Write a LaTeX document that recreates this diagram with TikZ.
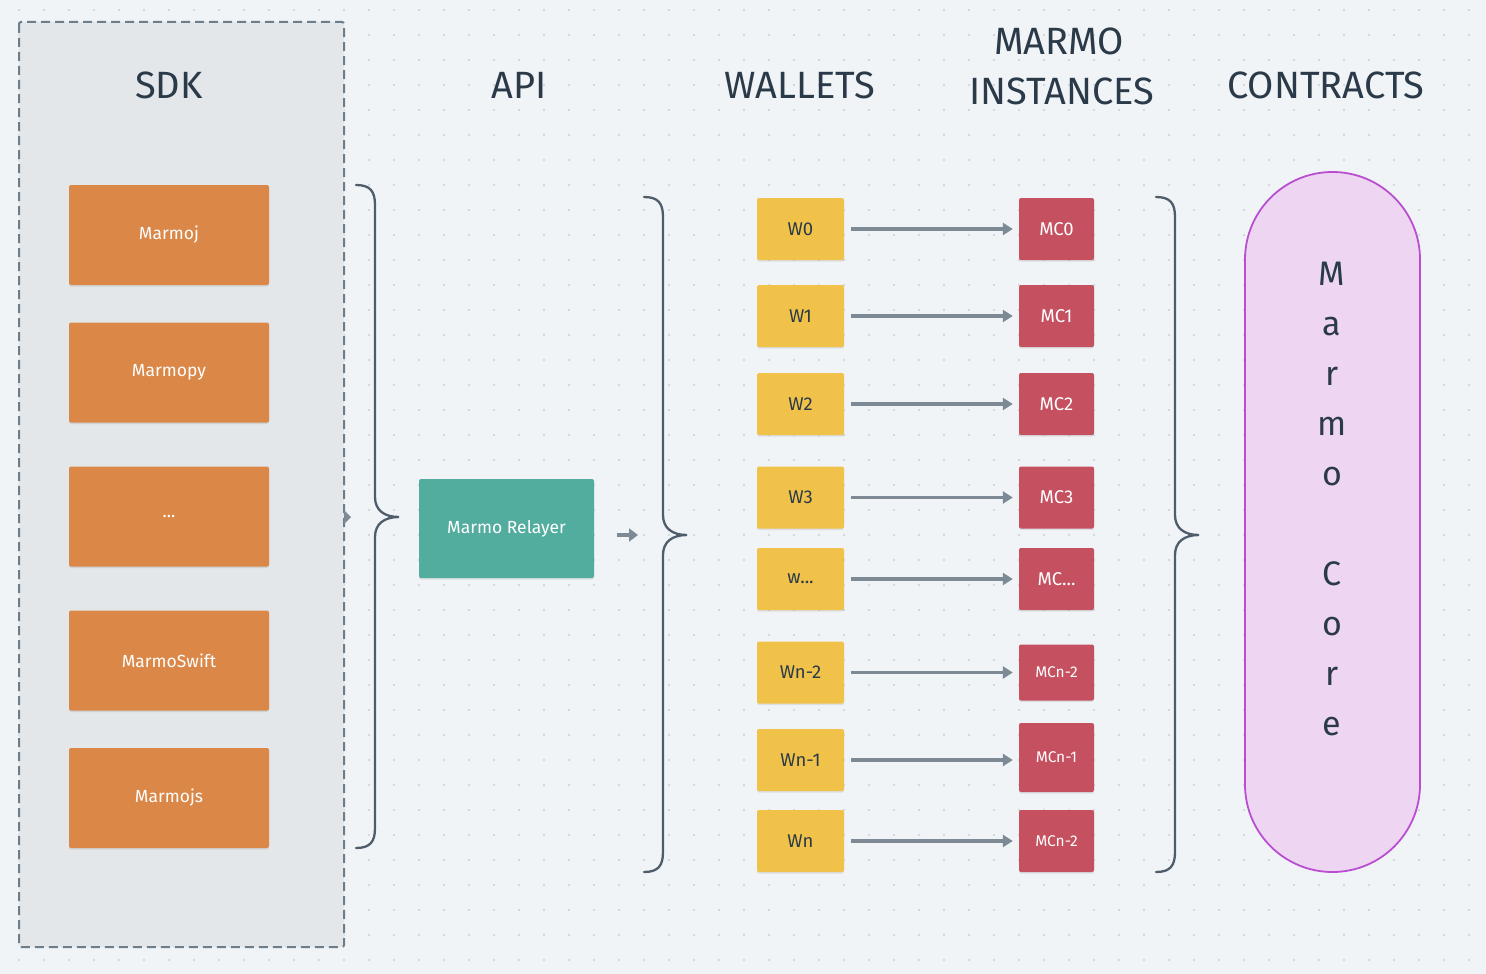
\documentclass[tikz,border=0pt]{standalone}
\usepackage{fontspec}
\setmainfont{Fira Sans}
\usetikzlibrary{arrows.meta,shadows}
\definecolor{paper}{HTML}{F1F4F7}
\definecolor{dotgray}{HTML}{C9D0D7}
\definecolor{panel}{HTML}{E4E7EA}
\definecolor{dashgray}{HTML}{6E7D8A}
\definecolor{ink}{HTML}{2A3A48}
\definecolor{sdkorange}{HTML}{DB8748}
\definecolor{relayteal}{HTML}{52AD9F}
\definecolor{walletyellow}{HTML}{F0C24A}
\definecolor{instred}{HTML}{C45060}
\definecolor{corefill}{HTML}{EED6F3}
\definecolor{coreline}{HTML}{B94FD0}
\definecolor{arrowgray}{HTML}{7D8A96}
\definecolor{bracegray}{HTML}{4F5D6B}
\begin{document}
\begin{tikzpicture}[x=1pt, y=-1pt,
  every node/.style={font=\fontsize{17.5}{21}\selectfont},
  title/.style={text=ink, font=\fontsize{38}{50}\selectfont, anchor=base},
  box/.style={rounded corners=2pt, inner sep=0pt,
    drop shadow={shadow xshift=0pt, shadow yshift=-1.5pt, opacity=.18}},
  sdkbox/.style={box, fill=sdkorange, text=white, minimum width=200, minimum height=100},
  relaybox/.style={box, fill=relayteal, text=white, minimum width=175, minimum height=99},
  walletbox/.style={box, fill=walletyellow, text=ink, minimum width=87, minimum height=62, font=\fontsize{18.5}{22}\selectfont},
  mcbox/.style={box, fill=instred, text=white, minimum width=75, minimum height=62, font=\fontsize{18.5}{22}\selectfont},
  mcsmall/.style={mcbox, font=\fontsize{15.5}{18}\selectfont},
  flow/.style={draw=arrowgray, line width=3.6pt, -{Triangle[length=10pt, width=12pt]}, shorten <=7pt, shorten >=6pt},
  brace/.style={draw=bracegray, line width=2.3pt, line cap=round},
  coreletter/.style={text=ink, font=\fontsize{34}{40}\selectfont, anchor=base}]

% background and dot grid
\useasboundingbox[fill=paper] (0,0) rectangle (1486,974);
\foreach \i in {0,...,59} \foreach \j in {0,...,38} \fill[dotgray] (19+25*\i, 10+25*\j) circle (1.1);

% SDK column
\draw[fill=panel, draw=dashgray, line width=2pt, dash pattern=on 9pt off 5pt, rounded corners=2pt] (19,22) rectangle (344,947);
\fill[arrowgray] (344,510) -- (351,517) -- (344,524) -- cycle;

% titles
\node[title] (sdk) at (169,98) {SDK};
\node[title] (api) at (519,98) {API};
\node[title] (wallets) at (800,98) {WALLETS};
\node[title] (marmo) at (1059,55) {MARMO};
\node[title] (instances) at (1062,104) {INSTANCES};
\node[title] (contracts) at (1326,98) {CONTRACTS};

% SDK boxes
\node[sdkbox] (marmoj) at (169,235) {Marmoj};
\node[sdkbox] (marmopy) at (169,372.5) {Marmopy};
\node[sdkbox] (sdkdots) at (169,516.5) {...};
\node[sdkbox] (marmoswift) at (169,660.5) {MarmoSwift};
\node[sdkbox] (marmojs) at (169,798) {Marmojs};

% relayer
\node[relaybox] (relayer) at (506.5,528.5) {Marmo Relayer};
\coordinate (relayout) at (617,535); \coordinate (relayin) at (638,535);
\draw[draw=arrowgray, line width=4.5pt, -{Triangle[length=9pt, width=13pt]}] (relayout) -- (relayin);

% braces
\draw[brace] (356,185) .. controls (370,185) and (375,191) .. (375,205) -- (375,497) .. controls (375,510) and (384,517) .. (399,517) .. controls (384,517) and (375,524) .. (375,537) -- (375,828) .. controls (375,842) and (370,848) .. (356,848);
\draw[brace] (644,197) .. controls (658,197) and (663,203) .. (663,217) -- (663,515) .. controls (663,528) and (672,535) .. (687,535) .. controls (672,535) and (663,542) .. (663,555) -- (663,852) .. controls (663,866) and (658,872) .. (644,872);
\draw[brace] (1156,197) .. controls (1170,197) and (1175,203) .. (1175,217) -- (1175,515) .. controls (1175,528) and (1184,535) .. (1199,535) .. controls (1184,535) and (1175,542) .. (1175,555) -- (1175,852) .. controls (1175,866) and (1170,872) .. (1156,872);

% wallets and instances
\node[walletbox] (w0) at (800.5,229) {W0};     \node[mcbox] (mc0) at (1056.5,229) {MC0};
\node[walletbox] (w1) at (800.5,316) {W1};     \node[mcbox] (mc1) at (1056.5,316) {MC1};
\node[walletbox] (w2) at (800.5,404) {W2};     \node[mcbox] (mc2) at (1056.5,404) {MC2};
\node[walletbox] (w3) at (800.5,497.5) {W3};   \node[mcbox] (mc3) at (1056.5,497.5) {MC3};
\node[walletbox] (wx) at (800.5,579) {w...};   \node[mcbox] (mcx) at (1056.5,579) {MC...};
\node[walletbox] (wn2) at (800.5,672.5) {Wn-2}; \node[mcsmall, minimum height=56] (mcn2) at (1056.5,672.5) {MCn-2};
\node[walletbox] (wn1) at (800.5,760) {Wn-1};  \node[mcsmall, minimum height=69] (mcn1) at (1056.5,757.5) {MCn-1};
\node[walletbox] (wn) at (800.5,841) {Wn};     \node[mcsmall] (mcn) at (1056.5,841) {MCn-2};

\draw[flow] (w0) -- (mc0);
\draw[flow] (w1) -- (mc1);
\draw[flow] (w2) -- (mc2);
\draw[flow] (w3) -- (mc3);
\draw[flow] (wx) -- (mcx);
\draw[flow] (wn2) -- (mcn2);
\draw[flow] (wn1.east) -- (mcn1.west |- wn1.east);
\draw[flow] (wn) -- (mcn);

% contracts
\node[draw=coreline, fill=corefill, line width=1.8pt, minimum width=175, minimum height=700, rounded corners=87.5pt] (core) at (1332.5,522) {};
\foreach \c/\y in {M/285, a/335, r/385, m/435, o/485, C/585, o/635, r/685, e/735}
  \node[coreletter] (core-\y) at (1332,\y) {\c};

\end{tikzpicture}
\end{document}
